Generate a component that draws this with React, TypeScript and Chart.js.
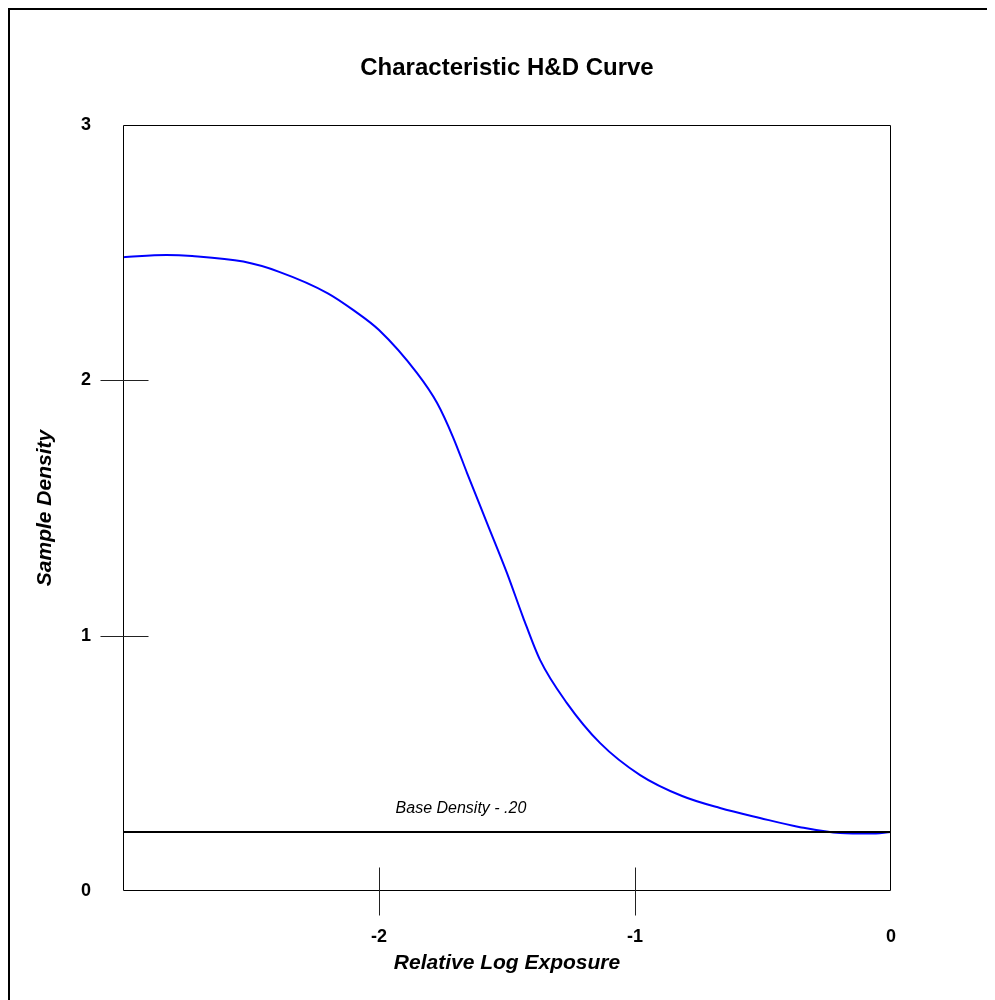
import React, { useEffect, useRef } from "react";
import { Chart, registerables } from "chart.js";

Chart.register(...registerables);

// Relative log exposure (x) and sample density (y)
const EXPOSURE = [-3.0, -2.83, -2.73, -2.53, -2.39, -2.2, -2.1, -2.0, -1.852, -1.773, -1.711, -1.656, -1.578, -1.5, -1.4375, -1.371, -1.266, -1.137, -0.98, -0.816, -0.668, -0.512, -0.355, -0.199, -0.082, 0.0];
const DENSITY = [2.482, 2.491, 2.487, 2.465, 2.425, 2.341, 2.275, 2.197, 2.029, 1.911, 1.778, 1.637, 1.441, 1.245, 1.073, 0.905, 0.736, 0.58, 0.454, 0.372, 0.325, 0.286, 0.25, 0.227, 0.225, 0.231];

const X_TICK_LABELS = [-2, -1, 0];
const Y_TICK_LABELS = [0, 1, 2, 3];
const X_MARKS = [-2, -1];
const Y_MARKS = [1, 2];

const BASE_DENSITY = 0.231;
const BASE_LABEL = "Base Density - .20";
const BASE_LABEL_X = -1.68;

const TITLE = "Characteristic H&D Curve";
const X_TITLE = "Relative Log Exposure";
const Y_TITLE = "Sample Density";

const FAMILY = "'Liberation Sans', Arial, Helvetica, sans-serif";

const decorPlugin = {
  id: "decor",
  afterDatasetsDraw(chart: any) {
    const { ctx, chartArea } = chart;
    const xs = chart.scales.x;
    const ys = chart.scales.y;
    const L = Math.round(chartArea.left) + 0.5;
    const R = Math.round(chartArea.right) - 0.5;
    const T = Math.round(chartArea.top) + 0.5;
    const B = Math.round(chartArea.bottom) - 0.5;
    ctx.save();
    // plot frame
    ctx.strokeStyle = "#000";
    ctx.lineWidth = 1;
    ctx.beginPath();
    ctx.moveTo(L, T);
    ctx.lineTo(R, T);
    ctx.lineTo(R, B);
    ctx.lineTo(L, B);
    ctx.closePath();
    ctx.stroke();
    // tick marks crossing the axes
    ctx.strokeStyle = "#222";
    Y_MARKS.forEach((v) => {
      const p = Math.round(ys.getPixelForValue(v)) + 0.5;
      ctx.beginPath();
      ctx.moveTo(L - 23, p);
      ctx.lineTo(L + 25, p);
      ctx.stroke();
    });
    X_MARKS.forEach((v) => {
      const p = Math.round(xs.getPixelForValue(v)) + 0.5;
      ctx.beginPath();
      ctx.moveTo(p, B - 23);
      ctx.lineTo(p, B + 25);
      ctx.stroke();
    });
    // base density line
    const by = Math.round(ys.getPixelForValue(BASE_DENSITY));
    ctx.strokeStyle = "#000";
    ctx.lineWidth = 2;
    ctx.beginPath();
    ctx.moveTo(chartArea.left, by);
    ctx.lineTo(chartArea.right, by);
    ctx.stroke();
    ctx.fillStyle = "#000";
    ctx.font = `italic 16px ${FAMILY}`;
    ctx.textAlign = "center";
    ctx.textBaseline = "alphabetic";
    ctx.fillText(BASE_LABEL, xs.getPixelForValue(BASE_LABEL_X), by - 19);
    ctx.restore();
  },
};

export default function App() {
  const ref = useRef<HTMLCanvasElement | null>(null);

  useEffect(() => {
    if (!ref.current) return;
    Chart.defaults.font.family = FAMILY;
    Chart.defaults.color = "#000";
    const chart = new Chart(ref.current, {
      type: "line",
      data: {
        datasets: [
          {
            data: EXPOSURE.map((x, i) => ({ x, y: DENSITY[i] })),
            borderColor: "#0000ff",
            borderWidth: 2,
            pointRadius: 0,
            fill: false,
            cubicInterpolationMode: "monotone",
          },
        ],
      },
      options: {
        animation: false,
        responsive: false,
        layout: { padding: { left: 0, top: 0, right: 104, bottom: 0 } },
        plugins: {
          legend: { display: false },
          tooltip: { enabled: false },
          title: {
            display: true,
            text: TITLE,
            fullSize: false,
            color: "#000",
            font: { size: 24, weight: "bold", family: FAMILY },
            padding: { top: 43.6, bottom: 42.6 },
          },
        },
        scales: {
          x: {
            type: "linear",
            min: -3,
            max: 0,
            position: "bottom",
            grid: { display: false, drawTicks: false },
            border: { display: false },
            afterBuildTicks: (s: any) => {
              s.ticks = X_TICK_LABELS.map((v) => ({ value: v }));
            },
            afterFit: (s: any) => {
              s.height = 109;
            },
            ticks: {
              padding: 35,
              autoSkip: false,
              maxRotation: 0,
              color: "#000",
              font: { size: 18, weight: "bold", family: FAMILY },
              callback: (v: any) => String(v),
            },
            title: {
              display: true,
              text: X_TITLE,
              color: "#000",
              font: { size: 21, weight: "bold", style: "italic", family: FAMILY },
              padding: { top: 0, bottom: 24.4 },
            },
          },
          y: {
            type: "linear",
            min: 0,
            max: 3,
            grid: { display: false, drawTicks: false },
            border: { display: false },
            afterBuildTicks: (s: any) => {
              s.ticks = Y_TICK_LABELS.map((v) => ({ value: v }));
            },
            afterFit: (s: any) => {
              s.width = 113;
            },
            ticks: {
              padding: 32,
              autoSkip: false,
              color: "#000",
              font: { size: 18, weight: "bold", family: FAMILY },
              callback: (v: any) => String(v),
            },
            title: {
              display: true,
              text: Y_TITLE,
              color: "#000",
              font: { size: 21, weight: "bold", style: "italic", family: FAMILY },
              padding: { top: 22.4, bottom: 0 },
            },
          },
        },
      },
      plugins: [decorPlugin],
    });
    return () => chart.destroy();
  }, []);

  return (
    <div
      style={{
        width: 987,
        height: 992,
        boxSizing: "border-box",
        borderLeft: "2px solid #000",
        borderTop: "2px solid #000",
        overflow: "hidden",
        background: "#fff",
      }}
    >
      <canvas ref={ref} width={985} height={990} style={{ display: "block", width: 985, height: 990 }} />
    </div>
  );
}
